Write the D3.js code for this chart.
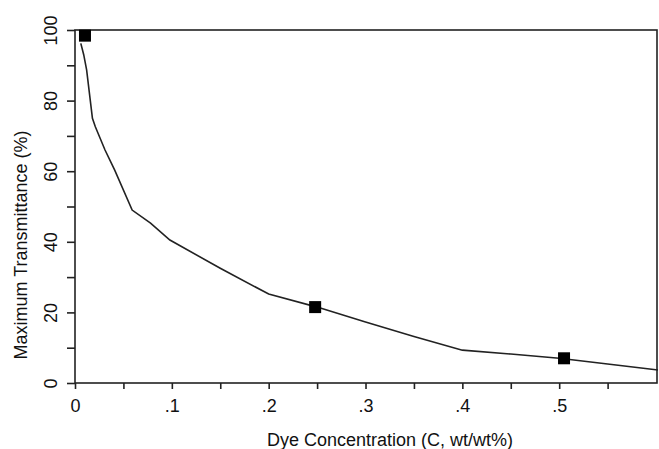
<!DOCTYPE html>
<html>
<head>
<meta charset="utf-8">
<script src="https://d3js.org/d3.v7.min.js"></script>
<style>
  body { margin: 0; background: #fff; }
  svg text { font-family: "Liberation Sans", Arial, sans-serif; fill: #111; }
</style>
</head>
<body>
<svg id="chart" width="659" height="449"></svg>
<script>
// curve
const conc = [0.006, 0.009, 0.012, 0.018, 0.021, 0.031, 0.041, 0.059, 0.078, 0.098, 0.150, 0.200, 0.250, 0.300, 0.350, 0.400, 0.450, 0.500, 0.550, 0.602];
const trans = [96.2, 93, 88.7, 75, 72.6, 66, 60.3, 49, 45.3, 40.5, 32.5, 25.2, 21.5, 17.3, 13.2, 9.3, 8.2, 7.0, 5.4, 3.7];
// measured points (squares)
const markConc = [0.0103, 0.248, 0.505];
const markTrans = [98.4, 21.5, 7.0];
const xTicks = [0, 0.1, 0.2, 0.3, 0.4, 0.5];
const yTicks = [0, 20, 40, 60, 80, 100];

const svg = d3.select('#chart');
const plotL = 75, plotR = 657, plotT = 30, plotB = 383;

const x = d3.scaleLinear().domain([0, 0.601]).range([plotL, plotR]);
const y = d3.scaleLinear().domain([0, 100]).range([plotB, plotT]);

// frame
svg.append('rect')
  .attr('x', plotL).attr('y', plotT)
  .attr('width', plotR - plotL).attr('height', plotB - plotT)
  .attr('fill', 'none').attr('stroke', '#222').attr('stroke-width', 1.6);

// x axis
const xAxis = svg.append('g').attr('transform', `translate(0,${plotB})`);
xAxis.call(d3.axisBottom(x).tickValues(d3.range(0, 0.6, 0.05)).tickSize(6).tickFormat(''));
xAxis.selectAll('.tick').filter(d => xTicks.some(t => Math.abs(t - d) < 1e-6))
  .append('text')
  .attr('y', 29).attr('font-size', 18).attr('text-anchor', 'middle')
  .text(d => d === 0 ? '0' : d3.format('.1f')(d).replace(/^0/, ''));
xAxis.select('.domain').remove();
xAxis.selectAll('line').attr('stroke', '#222').attr('stroke-width', 1.6);

// y axis
const yAxis = svg.append('g').attr('transform', `translate(${plotL},0)`);
yAxis.call(d3.axisLeft(y).tickValues(d3.range(0, 101, 10)).tickSize(8).tickFormat(''));
yAxis.selectAll('.tick').filter(d => yTicks.includes(d))
  .append('text')
  .attr('transform', 'translate(-18,0) rotate(-90)')
  .attr('font-size', 18).attr('text-anchor', 'middle')
  .text(d => d);
yAxis.select('.domain').remove();
yAxis.selectAll('line').attr('stroke', '#222').attr('stroke-width', 1.6);

// curve
const line = d3.line().x(d => x(d[0])).y(d => y(d[1]));
svg.append('path')
  .datum(conc.map((c, i) => [c, trans[i]]))
  .attr('d', line)
  .attr('fill', 'none').attr('stroke', '#222').attr('stroke-width', 1.6);

// markers
svg.selectAll('rect.mark')
  .data(markConc.map((c, i) => [c, markTrans[i]]))
  .join('rect')
  .attr('class', 'mark')
  .attr('x', d => x(d[0]) - 6).attr('y', d => y(d[1]) - 6)
  .attr('width', 12).attr('height', 12)
  .attr('fill', '#000');

// titles
svg.append('text')
  .attr('x', 390).attr('y', 446)
  .attr('font-size', 18).attr('text-anchor', 'middle')
  .text('Dye Concentration (C, wt/wt%)');
svg.append('text')
  .attr('transform', 'translate(27,245) rotate(-90)')
  .attr('font-size', 18).attr('text-anchor', 'middle')
  .text('Maximum Transmittance (%)');
</script>
</body>
</html>
